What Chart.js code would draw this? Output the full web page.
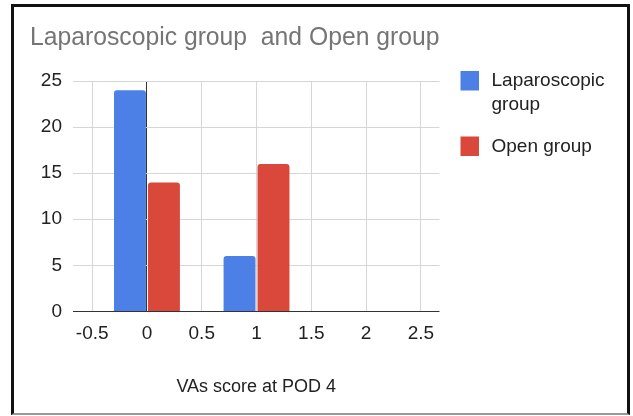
<!DOCTYPE html>
<html>
<head>
<meta charset="utf-8">
<script src="https://cdn.jsdelivr.net/npm/chart.js@4/dist/chart.umd.min.js"></script>
<style>
  html, body { margin: 0; padding: 0; background: #fff; }
  #wrap { position: relative; width: 633px; height: 416px; }
  #frame {
    position: absolute; left: 11px; top: 4px; width: 619px; height: 411px;
    border-left: 3px solid #111; border-top: 3px solid #111; border-right: 3px solid #111;
    border-bottom: 2px solid #999; box-sizing: border-box; pointer-events: none;
  }
</style>
</head>
<body>
<div id="wrap">
  <canvas id="c" width="633" height="416"></canvas>
  <div id="frame"></div>
</div>
<script>
// VAS score at post-operative day 4, patient counts per group
const scores = [0, 1];
const laparoscopic = [24, 6];
const open = [14, 16];
const seriesNames = ['Laparoscopic group', 'Open group'];
const legendLines = [['Laparoscopic', 'group'], ['Open group']];
const xTickValues = [-0.5, 0, 0.5, 1, 1.5, 2, 2.5];
const yTickValues = [0, 5, 10, 15, 20, 25];

const BLUE = '#4d80e6';
const RED = '#d9483b';
const FONT = "'Liberation Sans', Arial, sans-serif";

const toPoints = vals => scores.map((s, i) => ({ x: s, y: vals[i] }));

// Legend drawn at the right of the plot, with wrapped labels
const sideLegend = {
  id: 'sideLegend',
  afterDraw(chart) {
    const { ctx, chartArea } = chart;
    const x0 = chartArea.right + 21;
    const tops = [71, 136.5];
    ctx.save();
    ctx.font = '19px ' + FONT;
    ctx.textBaseline = 'middle';
    ctx.textAlign = 'left';
    chart.data.datasets.forEach((ds, i) => {
      ctx.fillStyle = ds.backgroundColor;
      ctx.fillRect(x0, tops[i], 18.5, 19.5);
      ctx.fillStyle = '#222';
      legendLines[i].forEach((line, j) => {
        ctx.fillText(line, x0 + 31, tops[i] + 10 + j * 24);
      });
    });
    ctx.restore();
  }
};

new Chart(document.getElementById('c'), {
  type: 'bar',
  data: {
    datasets: [
      { label: seriesNames[0], data: toPoints(laparoscopic), backgroundColor: BLUE },
      { label: seriesNames[1], data: toPoints(open), backgroundColor: RED }
    ]
  },
  options: {
    responsive: false,
    animation: false,
    devicePixelRatio: 1,
    // the bar slot is sized from the 0.5 tick spacing, so the group spans 0.62 units
    categoryPercentage: 1.24,
    barPercentage: 0.94,
    borderRadius: 3,
    layout: { padding: { left: 30, right: 193.5, top: 0, bottom: 0 } },
    plugins: {
      legend: { display: false },
      tooltip: { enabled: false },
      title: {
        display: true,
        text: 'Laparoscopic group  and Open group',
        align: 'start',
        color: '#757575',
        font: { family: FONT, size: 25, weight: 'normal' },
        padding: { top: 23, bottom: 28 }
      }
    },
    scales: {
      x: {
        type: 'linear',
        min: -0.675,
        max: 2.67,
        offset: false,
        afterBuildTicks: s => { s.ticks = xTickValues.map(v => ({ value: v })); },
        ticks: {
          color: '#222',
          padding: 11,
          font: { family: FONT, size: 19 },
          callback: v => String(v)
        },
        grid: {
          offset: false,
          drawTicks: false,
          color: c => (c.tick && c.tick.value === 0 ? '#333' : '#d6d6d6')
        },
        border: { display: false },
        title: {
          display: true,
          text: 'VAs score at POD 4',
          color: '#222',
          font: { family: FONT, size: 18 },
          padding: { top: 20, bottom: 18.2 }
        }
      },
      y: {
        min: 0,
        max: 25,
        afterBuildTicks: s => { s.ticks = yTickValues.map(v => ({ value: v })); },
        afterFit: s => { s.width = 43; },
        ticks: {
          color: '#222',
          padding: 11,
          font: { family: FONT, size: 19 }
        },
        grid: {
          drawTicks: false,
          color: c => (c.tick && c.tick.value === 0 ? '#333' : '#d6d6d6')
        },
        border: { display: false }
      }
    }
  },
  plugins: [sideLegend]
});
</script>
</body>
</html>
